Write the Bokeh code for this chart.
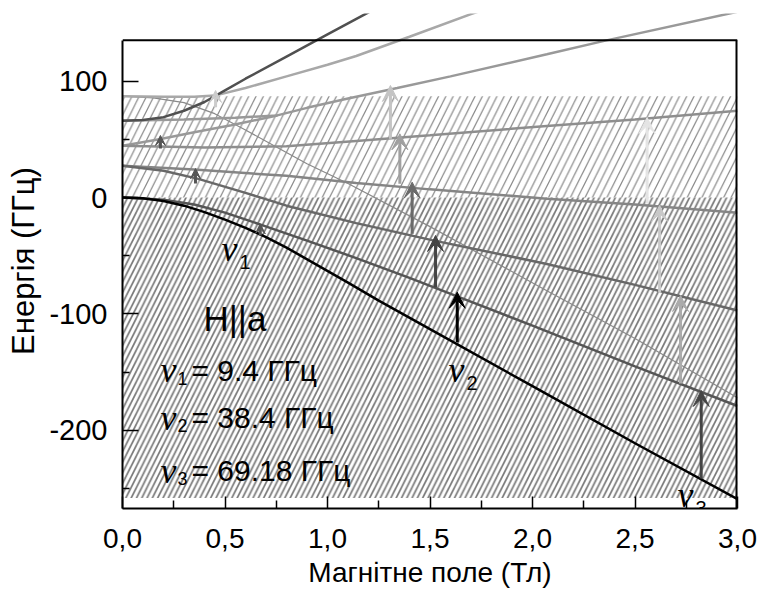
from bokeh.plotting import figure
from bokeh.models import FixedTicker, Range1d, Span, Arrow, VeeHead
from bokeh.core.properties import value
from bokeh.embed import file_html
from bokeh.resources import INLINE

# ---------------- data ----------------
x_ticks = [0.0, 0.5, 1.0, 1.5, 2.0, 2.5, 3.0]
x_tick_labels = ["0,0", "0,5", "1,0", "1,5", "2,0", "2,5", "3,0"]
x_minor = [0.25, 0.75, 1.25, 1.75, 2.25, 2.75]
y_ticks = [-200, -100, 0, 100]
y_tick_labels = ["-200", "-100", "0", "100"]
y_minor = [-250, -150, -50, 50]

# hatched bands (energy limits)
hatch_low = [-258, 0]
hatch_high = [0, 87]

# energy levels (GHz) vs field (T)
black_x = [0, 0.1, 0.2, 0.3, 0.4, 0.5, 0.6, 0.7, 0.8, 0.95, 1.1, 1.25, 1.5, 2.0, 2.5, 3.0]
black_y = [0, -0.7, -3, -7, -12.5, -19, -26, -34, -43, -58, -73, -88.5, -113, -162, -211, -259]

g_x = [0, 0.2, 0.35, 0.5, 0.67, 0.9, 1.14, 1.4, 1.62, 2.0, 2.5, 3.0]
g_y = [0, -2, -6, -13, -23, -37, -52, -69, -84, -110, -145, -179]

f_x = [0, 0.2, 0.37, 0.6, 0.8, 1.14, 1.52, 2.07, 2.5, 3.0]
f_y = [27.2, 23, 16, 4, -7, -22, -37, -57, -75, -97]

d_x = [0, 0.35, 0.8, 1.14, 1.5, 2.07, 2.5, 3.0]
d_y = [27.2, 24, 18.6, 12.5, 7, -1, -6, -13]

c_x = [0, 0.4, 0.8, 1.14, 1.5, 2.07, 2.5, 3.0]
c_y = [44.4, 43, 44, 48.6, 53.5, 61.4, 67, 74.4]

bp_x = [0, 0.18, 0.35, 0.53, 0.755]
bp_y = [44.4, 50, 56, 62, 70.5]

b_x = [0, 0.3, 0.55, 0.755, 0.9, 1.1, 1.34, 1.6, 2.07, 2.35, 3.0]
b_y = [66, 67, 68.5, 70.5, 77, 85, 94, 104, 123, 134.5, 159.5]

a_x = [0, 0.2, 0.35, 0.45, 0.6, 0.8, 1.0, 1.14, 1.4, 1.7, 1.75]
a_y = [87, 86.5, 86.5, 87.5, 94, 104, 114, 121.5, 138, 157.5, 160.5]

s_x = [0, 0.1, 0.2, 0.3, 0.4, 0.5, 0.6, 0.8, 1.0, 1.2, 1.25]
s_y = [66, 66.5, 69, 74.5, 82, 92, 102, 121, 140, 159, 164]

t_x = [0, 0.15, 0.3, 0.45, 0.6, 0.755, 0.9, 1.1, 1.5, 2.07, 2.5, 3.0]
t_y = [87, 85.5, 81.5, 72, 58, 43, 29, 12, -25, -80, -121, -172]

# transitions (arrows): field, from, to, colour, head size
arr_x = [0.185, 0.356, 0.672, 0.454,
         1.307, 1.353, 1.413, 1.527, 1.633,
         2.559, 2.62, 2.722, 2.823]
arr_y0 = [42.1, 12.0, -32.6, 77.5,
          50.4, 11.8, -31.1, -77.0, -124.2,
          -5.1, -81.5, -159.7, -241.2]
arr_y1 = [53.3, 24.9, -22.6, 91.9,
          96.2, 54.7, 13.2, -32.6, -81.3,
          68.7, -6.8, -84.1, -165.7]
arr_col = ["#555555", "#555555", "#555555", "#cccccc",
           "#c4c4c4", "#a0a0a0", "#6a6a6a", "#454545", "#000000",
           "#e4e4e4", "#c8c8c8", "#ababab", "#444444"]
arr_head = [10, 10, 10, 12, 16, 16, 16, 16, 16, 16, 16, 16, 16]

# frame edges
frame_top = 135
frame_bottom = -267
frame_right = 3.0

# text
nu_lab_x = [0.483, 1.59, 2.707]
nu_lab_y = [-43.8, -148.5, -255.8]
nu_lab_sub = ["1", "2", "3"]

leg_x = 0.185
leg_y = [-148.5, -188.9, -234.4]
leg_sub = ["1", "2", "3"]
leg_txt = ["= 9.4 ГГц", "= 38.4 ГГц", "= 69.18 ГГц"]
orient_txt = "H||a"
orient_x = 0.395
orient_y = -103.9

SANS = value("Liberation Sans")
SERIF = value("Liberation Serif")

p = figure(frame_width=615, frame_height=495,
           x_range=Range1d(0, 3.0), y_range=Range1d(frame_bottom, 158),
           output_backend="svg", toolbar_location=None,
           min_border_left=122, min_border_right=22,
           min_border_top=13, min_border_bottom=88)
p.outline_line_color = None
p.xgrid.visible = False
p.ygrid.visible = False
p.background_fill_color = "white"
p.border_fill_color = "white"

# hatched bands
p.quad(left=[0], right=[3.0], bottom=[hatch_low[0]], top=[hatch_low[1]],
       fill_color=None, line_color=None, hatch_pattern="/",
       hatch_scale=10.6, hatch_weight=1.7, hatch_color="#7a7a7a")
p.quad(left=[0], right=[3.0], bottom=[hatch_high[0]], top=[hatch_high[1]],
       fill_color=None, line_color=None, hatch_pattern="/",
       hatch_scale=14.6, hatch_weight=1.2, hatch_color="#888888")

# levels
p.line(t_x, t_y, line_color="#8a8a8a", line_width=1.2)
p.line(a_x, a_y, line_color="#a8a8a8", line_width=2.5)
p.line(b_x, b_y, line_color="#999999", line_width=2.5)
p.line(bp_x, bp_y, line_color="#999999", line_width=2.5)
p.line(c_x, c_y, line_color="#8e8e8e", line_width=2.5)
p.line(d_x, d_y, line_color="#858585", line_width=2.5)
p.line(f_x, f_y, line_color="#686868", line_width=2.5)
p.line(g_x, g_y, line_color="#555555", line_width=2.5)
p.line(s_x, s_y, line_color="#505050", line_width=2.5)
p.line(black_x, black_y, line_color="#000000", line_width=2.5)

# arrows
for xa, y0, y1, col, hs in zip(arr_x, arr_y0, arr_y1, arr_col, arr_head):
    p.add_layout(Arrow(end=VeeHead(size=hs, fill_color=col, line_color=col, line_width=1),
                       x_start=xa, y_start=y0, x_end=xa, y_end=y1,
                       line_color=col, line_width=3))

# frame: top line and right side
p.add_layout(Span(location=frame_top, dimension="width", line_color="black", line_width=2))
p.segment(x0=[frame_right], y0=[frame_bottom], x1=[frame_right], y1=[frame_top],
          line_color="black", line_width=4)

# axes
p.xaxis.ticker = FixedTicker(ticks=x_ticks, minor_ticks=x_minor)
p.xaxis.major_label_overrides = dict(zip(x_ticks, x_tick_labels))
p.yaxis.ticker = FixedTicker(ticks=y_ticks, minor_ticks=y_minor)
p.yaxis.major_label_overrides = dict(zip(y_ticks, y_tick_labels))
p.yaxis.bounds = (frame_bottom, frame_top)
for ax in (p.xaxis[0], p.yaxis[0]):
    ax.axis_line_width = 2
    ax.major_tick_line_width = 1.5
    ax.minor_tick_line_width = 1.5
    ax.major_tick_out = 0
    ax.minor_tick_out = 0
    ax.major_label_text_font = "Liberation Sans"
    ax.major_label_text_color = "black"
    ax.axis_label_text_font = "Liberation Sans"
    ax.axis_label_text_font_style = "normal"
    ax.axis_label_text_color = "black"
p.xaxis.major_label_text_font_size = "28px"
p.yaxis.major_label_text_font_size = "29px"
p.xaxis.axis_label_text_font_size = "28px"
p.yaxis.axis_label_text_font_size = "31px"
p.xaxis.major_tick_in = 12
p.xaxis.minor_tick_in = 8
p.yaxis.major_tick_in = 16
p.yaxis.minor_tick_in = 7
p.xaxis.major_label_standoff = 20
p.yaxis.major_label_standoff = 15
p.xaxis.axis_label = "Магнітне поле (Тл)"
p.yaxis.axis_label = "Енергія (ГГц)"
p.xaxis.axis_label_standoff = 6
p.yaxis.axis_label_standoff = 5

# texts
p.text(x=[orient_x], y=[orient_y], text=[orient_txt], text_font=SANS,
       text_font_size="35px", text_baseline="alphabetic", text_color="black")
p.text(x=[leg_x] * 3, y=leg_y, text=["ν"] * 3, text_font=SERIF,
       text_font_style="italic", text_font_size="36px",
       text_baseline="alphabetic", text_color="black")
p.text(x=[leg_x] * 3, y=leg_y, text=leg_sub, text_font=SANS,
       text_font_size="18px", text_baseline="alphabetic", text_color="black",
       x_offset=17, y_offset=8)
p.text(x=[leg_x] * 3, y=leg_y, text=leg_txt, text_font=SANS,
       text_font_size="30px", text_baseline="alphabetic", text_color="black",
       x_offset=31)
p.text(x=nu_lab_x, y=nu_lab_y, text=["ν"] * 3, text_font=SERIF,
       text_font_style="italic", text_font_size="36px",
       text_baseline="alphabetic", text_color="black")
p.text(x=nu_lab_x, y=nu_lab_y, text=nu_lab_sub, text_font=SANS,
       text_font_size="20px", text_baseline="alphabetic", text_color="black",
       x_offset=18, y_offset=13)

open("out.html", "w").write(file_html(p, INLINE))
